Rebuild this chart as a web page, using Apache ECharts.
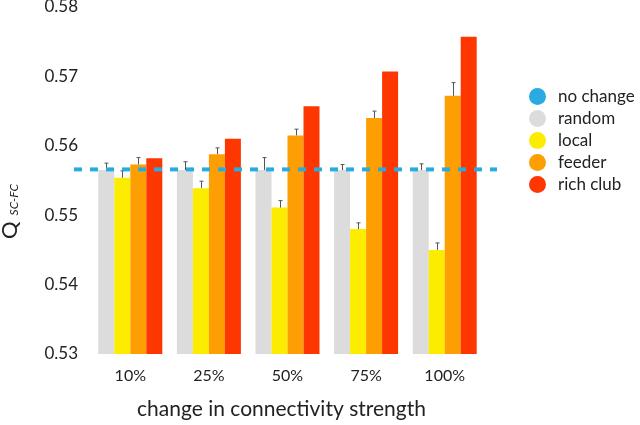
<!DOCTYPE html>
<html>
<head>
<meta charset="utf-8">
<script src="https://cdn.jsdelivr.net/npm/echarts@6/dist/echarts.min.js"></script>
<style>html,body{margin:0;padding:0;background:#fff;}#c{width:640px;height:425px;}</style>
</head>
<body>
<div id="c"></div>
<script>
const categories = ['10%', '25%', '50%', '75%', '100%'];
const noChange = 0.5566;
const random = [0.5565, 0.5565, 0.5565, 0.5565, 0.5565];
const local = [0.5554, 0.5539, 0.5511, 0.5480, 0.5450];
const feeder = [0.5573, 0.5588, 0.5615, 0.5640, 0.5672];
const richClub = [0.5582, 0.5610, 0.5657, 0.5707, 0.5757];
// upper end of error bars
const randomErr = [0.5575, 0.5577, 0.5583, 0.5573, 0.5574];
const localErr = [0.5564, 0.5549, 0.5521, 0.5489, 0.5460];
const feederErr = [0.5583, 0.5597, 0.5624, 0.5650, 0.5691];
const yTicks = [0.53, 0.54, 0.55, 0.56, 0.57, 0.58];

const BAR_W = 16;
const FONT = 'Lato';
const colors = { random: '#dcdcdc', local: '#fcec00', feeder: '#fd9e02', rich: '#fe3700', blue: '#29abe2' };

const errData = [];
[[random, randomErr, 0], [local, localErr, 1], [feeder, feederErr, 2]].forEach(([v, e, k]) => {
  v.forEach((val, i) => errData.push([i, val, e[i], k]));
});

const chart = echarts.init(document.getElementById('c'), null, { renderer: 'canvas' });
chart.setOption({
  animation: false,
  textStyle: { fontFamily: FONT },
  grid: [
    { left: 91, width: 393, top: 7, bottom: 71, containLabel: false, outerBoundsMode: 'none' },
    { left: 74, width: 423, top: 7, bottom: 71, containLabel: false, outerBoundsMode: 'none' }
  ],
  legend: {
    orient: 'vertical', left: 524, top: 83,
    icon: 'circle', itemWidth: 17, itemHeight: 17, itemGap: 5,
    textStyle: { fontFamily: FONT, fontSize: 17, color: '#222', padding: [0, 0, 0, 7] },
    data: ['no change', 'random', 'local', 'feeder', 'rich club']
  },
  xAxis: [
    {
      type: 'category', data: categories, gridIndex: 0,
      axisLine: { show: false }, axisTick: { show: false },
      axisLabel: { fontFamily: FONT, fontSize: 16, color: '#222', margin: 14 },
      name: 'change in connectivity strength', nameLocation: 'middle', nameGap: 45,
      nameTextStyle: { fontFamily: FONT, fontSize: 21, color: '#222', padding: [0, 12, 0, 0] }
    },
    { type: 'value', gridIndex: 1, min: 0, max: 1, show: false }
  ],
  yAxis: [
    {
      type: 'value', gridIndex: 0, min: yTicks[0], max: yTicks[yTicks.length - 1], interval: 0.01,
      axisLine: { show: false }, axisTick: { show: false }, splitLine: { show: false },
      axisLabel: { fontFamily: FONT, fontSize: 17, color: '#222', margin: 13, padding: [5, 0, 0, 0],
                   formatter: v => v.toFixed(2) },
      name: '{q|Q}{s|SC-FC}', nameLocation: 'middle', nameGap: 70, nameRotate: 90,
      nameTextStyle: {
        padding: [0, 62, 0, 0],
        rich: {
          q: { fontFamily: FONT, fontSize: 22, color: '#222', lineHeight: 24, verticalAlign: 'bottom' },
          s: { fontFamily: FONT, fontSize: 12, fontStyle: 'italic', color: '#222', lineHeight: 24,
               verticalAlign: 'bottom', padding: [0, 0, 1, 6] }
        }
      }
    },
    { type: 'value', gridIndex: 1, min: yTicks[0], max: yTicks[yTicks.length - 1], show: false }
  ],
  series: [
    { name: 'random', type: 'bar', data: random, barWidth: BAR_W, barGap: '0%', itemStyle: { color: colors.random } },
    { name: 'local', type: 'bar', data: local, barWidth: BAR_W, barGap: '0%', itemStyle: { color: colors.local } },
    { name: 'feeder', type: 'bar', data: feeder, barWidth: BAR_W, barGap: '0%', itemStyle: { color: colors.feeder } },
    { name: 'rich club', type: 'bar', data: richClub, barWidth: BAR_W, barGap: '0%', itemStyle: { color: colors.rich } },
    {
      name: 'errors', type: 'custom', xAxisIndex: 0, yAxisIndex: 0, z: 5, data: errData,
      renderItem: (params, api) => {
        const base = api.coord([api.value(0), api.value(1)]);
        const top = api.coord([api.value(0), api.value(2)]);
        const x = Math.round(base[0] + (api.value(3) - 1.5) * BAR_W) + 0.5;
        const st = { stroke: '#555', lineWidth: 1 };
        return {
          type: 'group', children: [
            { type: 'line', shape: { x1: x, y1: base[1], x2: x, y2: top[1] }, style: st },
            { type: 'line', shape: { x1: x - 2, y1: top[1], x2: x + 2, y2: top[1] }, style: st }
          ]
        };
      }
    },
    {
      name: 'no change', type: 'line', xAxisIndex: 1, yAxisIndex: 1, z: 10,
      data: [[0, noChange], [1, noChange]], symbol: 'none',
      itemStyle: { color: colors.blue },
      lineStyle: { color: colors.blue, width: 4, type: [8, 8], cap: 'butt' }
    }
  ]
});
</script>
</body>
</html>
